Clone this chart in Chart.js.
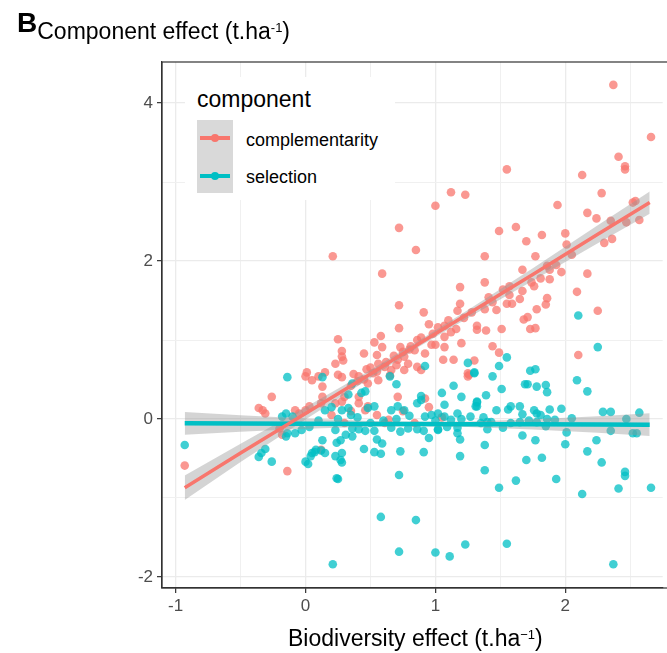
<!DOCTYPE html>
<html><head><meta charset="utf-8">
<script src="https://cdn.jsdelivr.net/npm/chart.js@4.4.1/dist/chart.umd.min.js"></script>
<style>
html,body{margin:0;padding:0;background:#fff;}
#wrap{position:relative;width:667px;height:653px;overflow:hidden;font-family:"Liberation Sans",Arial,sans-serif;}
canvas{position:absolute;left:0;top:0;}
.txt{position:absolute;white-space:nowrap;color:#000;}
.inl{line-height:0;position:relative;}
#legend{position:absolute;left:185px;top:77px;width:210px;height:123px;background:#fff;}
.keybox{position:absolute;left:12px;top:43px;width:36px;height:73px;background:#D9D9D9;}
.kline{position:absolute;left:15px;width:30px;height:3.5px;}
.kdot{position:absolute;left:26px;width:8px;height:8px;border-radius:50%;}
</style></head><body>
<div id="wrap">
<canvas id="c" width="667" height="653"></canvas>
<div class="txt" style="left:17px;top:9.3px;font-size:28px;line-height:28px;"><b>B</b><span class="inl" style="font-size:23px;top:7px;">Component effect (t.ha</span><span class="inl" style="font-size:13px;top:0px;">-1</span><span class="inl" style="font-size:23px;top:7px;">)</span></div>
<div id="legend">
  <div class="txt" style="left:12px;top:10.5px;font-size:23px;line-height:23px;">component</div>
  <div class="keybox"></div>
  <div class="kline" style="top:59.3px;background:#F8766D;"></div>
  <div class="kdot" style="top:57px;background:#F8766D;"></div>
  <div class="kline" style="top:97.3px;background:#00BFC4;"></div>
  <div class="kdot" style="top:95px;background:#00BFC4;"></div>
  <div class="txt" style="left:61px;top:53.8px;font-size:18px;line-height:18px;">complementarity</div>
  <div class="txt" style="left:61px;top:90.8px;font-size:18px;line-height:18px;">selection</div>
</div>
<div class="txt" style="left:288px;top:626.5px;font-size:23px;line-height:23px;">Biodiversity effect (t.ha<span class="inl" style="font-size:13px;top:-7px;">&minus;1</span>)</div>
</div>
<script>
// ---- data ----
const compPoints = [
[2.37,4.23],[2.66,3.57],[2.41,3.32],[2.46,3.20],[2.46,3.16],[1.55,3.16],[2.13,3.09],[1.12,2.87],[1.23,2.84],[1.00,2.70],[2.28,2.86],[1.94,2.71],[2.54,2.76],[2.52,2.74],[2.17,2.61],[2.24,2.54],[2.35,2.51],[2.47,2.49],[2.57,2.52],[0.72,2.42],[1.49,2.38],[1.62,2.43],[0.85,2.14],[1.70,2.25],[1.82,2.33],[2.00,2.35],[2.01,2.21],[2.30,2.23],[2.36,2.28],[1.38,2.06],[1.77,2.06],[2.05,2.08],
[0.21,2.06],[0.59,1.84],[1.19,1.67],[1.19,1.46],[1.17,1.37],[0.72,1.44],[0.91,1.35],[0.72,1.15],[0.95,1.20],[1.02,1.16],[1.07,1.18],[1.16,1.14],[0.25,1.01],[0.58,1.05],[0.53,0.97],[0.59,0.91],[0.28,0.86],[0.45,0.83],[0.28,0.79],[0.55,0.81],[0.73,0.91],[0.81,0.92],[0.86,1.00],[0.89,1.03],[0.97,0.94],[1.00,0.94],[1.07,1.04],[1.07,0.91],[1.20,0.96],[1.06,0.75],[1.14,0.75],[1.25,0.58],[1.25,0.54],[0.23,0.70],[0.29,0.74],[0.01,0.59],[0.00,0.54],[0.05,0.49],[0.15,0.59],[0.13,0.41],[0.25,0.56],[0.28,0.53],[0.37,0.57],[0.41,0.54],[0.47,0.63],[0.52,0.58],[0.56,0.70],[0.61,0.66],[0.66,0.62],[0.71,0.75],[0.76,0.79],[0.79,0.70],[0.76,0.62],[0.86,0.66],[0.89,0.62],[0.92,0.83],[0.84,0.87],[-0.26,0.28],[0.13,0.28],[0.71,0.28],[0.48,0.45],[0.56,0.49],[0.10,0.54],
[1.10,1.25],[1.22,1.28],[1.28,1.35],[0.98,1.08],[1.12,1.10],[0.35,0.42],[0.45,0.50],[0.55,0.60],[0.62,0.72],[0.68,0.80],[0.75,0.85],[0.80,0.88],[0.50,0.65],[0.40,0.48],[0.65,0.55],[0.70,0.68],
[1.67,1.89],[1.86,1.94],[1.88,1.89],[1.93,1.95],[1.97,1.86],[2.17,1.84],[1.38,1.73],[1.52,1.64],[1.57,1.68],[1.74,1.73],[1.76,1.68],[1.81,1.78],[1.88,1.77],[1.67,1.62],[1.57,1.57],[1.65,1.52],[1.41,1.54],[1.44,1.48],[1.86,1.53],[1.85,1.45],[1.55,1.46],[1.59,1.46],[2.09,1.61],[1.38,1.39],[1.47,1.38],[1.78,1.39],[2.25,1.37],[1.68,1.26],[1.71,1.29],[1.32,1.18],[1.32,1.13],[1.39,1.12],[1.51,1.14],[1.73,1.14],[1.77,1.15],[1.44,0.92],[1.49,0.84],[2.10,0.81],[1.30,0.74],[1.26,0.56],
[-0.36,0.14],[-0.31,0.07],[-0.14,-0.66],[0.12,-0.39],[0.12,0.20],[0.23,0.20],[0.28,0.22],[0.30,0.28],[0.41,0.28],[0.41,0.20],[0.48,0.16],[0.92,0.26],[-0.08,0.11],[-0.05,0.07],[0.00,0.11],[0.03,0.16],[-0.20,-0.12],[-0.18,-0.20],[0.64,-0.01],[0.61,-0.05],[0.84,-0.05],[0.46,0.11],
[0.20,0.05],[0.35,0.10],[0.55,0.05],[0.75,0.10],[0.95,0.15],[1.05,0.02],[0.30,-0.05],
[-0.93,-0.59],[-0.33,0.11]
];
const selPoints = [
[-0.14,0.53],[0.13,0.53],[0.92,0.67],[1.25,0.71],[1.30,0.58],[0.70,0.44],[0.65,0.54],[1.05,0.33],[1.14,0.42],[1.20,0.28],[0.89,0.29],[0.46,0.35],[0.36,0.45],
[2.10,1.31],[2.25,0.91],[1.55,0.78],[1.49,0.67],[1.30,0.59],[1.44,0.54],[1.73,0.61],[1.77,0.63],[1.69,0.44],[1.71,0.44],[1.78,0.41],[1.85,0.43],[1.86,0.34],[1.51,0.38],[2.09,0.49],[2.17,0.35],[1.39,0.30],
[-0.26,-0.54],[-0.34,-0.43],[-0.31,-0.38],[0.00,-0.54],[0.02,-0.57],[0.04,-0.47],[0.07,-0.42],[0.13,-0.27],[0.12,-0.40],[0.15,-0.43],[0.23,-0.47],[0.28,-0.43],[0.28,-0.55],[0.27,-0.52],[0.25,-0.76],[0.24,-0.30],[0.27,-0.27],[0.31,-0.20],[0.36,-0.22],[0.45,-0.38],[0.46,-0.15],[0.53,-0.42],[0.58,-0.44],[0.53,-0.15],[0.55,-0.26],[0.59,-0.31],[0.72,-0.71],[0.73,-0.41],[0.73,-0.16],[0.91,-0.42],[0.95,-0.24],[1.02,-0.14],[1.17,-0.18],[1.19,-0.26],[1.19,-0.47],[0.58,-1.24],[0.85,-1.28],[0.72,-1.68],[1.00,-1.69],[1.11,-1.74],[1.23,-1.59],[0.21,-1.84],
[0.33,0.31],[1.07,0.18],[1.31,0.16],[1.32,0.22],[0.86,0.20],[0.89,0.24],[0.76,0.11],[0.71,0.16],[0.66,0.11],[0.53,0.16],[0.48,0.14],[0.43,0.33],[0.28,0.11],[0.33,0.14],[0.15,0.11],[0.20,0.15],[-0.18,0.03],[-0.15,0.07],[-0.10,0.03],[1.02,0.07],[0.92,0.03],[0.97,0.05],[1.17,0.07],[1.27,0.03],[1.07,0.03],[1.12,-0.01],
[-0.03,-0.14],[0.03,-0.10],[-0.08,-0.18],[0.23,-0.14],[0.36,-0.12],[0.41,-0.13],[0.66,-0.11],[0.79,-0.12],[0.86,-0.13],[0.91,-0.15],[1.02,-0.13],[1.09,-0.10],[1.17,-0.11],
[0.10,-0.02],[0.25,0.00],[0.40,0.02],[0.60,-0.02],[0.70,0.00],[0.80,0.04],[1.00,-0.02],[1.20,0.00],[0.50,-0.05],[0.35,0.05],
[1.32,0.21],[1.32,0.16],[1.47,0.11],[1.56,0.12],[1.58,0.16],[1.65,0.16],[1.67,0.06],[1.76,0.11],[1.78,0.07],[1.81,0.05],[1.88,0.12],[1.97,0.13],[2.05,0.01],[2.29,0.09],[2.35,0.09],[2.57,0.08],[2.47,0.00],[1.37,0.02],[1.40,-0.04],[1.35,-0.05],[1.43,-0.04],[1.52,-0.11],[1.58,-0.05],[1.40,-0.13],[1.65,-0.04],[1.72,-0.02],[1.78,-0.04],[1.86,0.00],[1.92,-0.01],[1.85,-0.09],[1.67,-0.21],[1.77,-0.27],[2.01,-0.17],[2.00,-0.32],[2.35,-0.15],[2.52,-0.18],[2.55,-0.18],[2.24,-0.27],[2.17,-0.41],[1.38,-0.33],[1.82,-0.49],[1.70,-0.52],[2.28,-0.55],[1.38,-0.65],[1.62,-0.78],[1.49,-0.87],[1.93,-0.76],[2.13,-0.95],[2.46,-0.67],[2.46,-0.72],[2.41,-0.88],[2.66,-0.87],[1.55,-1.58],[2.37,-1.84],
[-0.93,-0.33],[-0.36,-0.48],[-0.15,-0.22],[-0.14,-0.18],[0.05,-0.43],[0.08,-0.39],[0.24,-0.75]
];
const fitX    = [-0.93, -0.5, 0, 0.5, 0.87, 1.25, 1.75, 2.25, 2.65];
const compFit = [-0.87, -0.43, 0.07, 0.57, 0.95, 1.33, 1.83, 2.34, 2.74];
const compLo  = [-1.025, -0.545, -0.008, 0.52, 0.91, 1.28, 1.75, 2.226, 2.60];
const compHi  = [-0.715, -0.315, 0.148, 0.62, 0.99, 1.38, 1.91, 2.454, 2.88];
const selFit  = [-0.055, -0.057, -0.06, -0.062, -0.064, -0.066, -0.068, -0.07, -0.072];
const selLo   = [-0.199, -0.162, -0.125, -0.097, -0.094, -0.101, -0.133, -0.175, -0.216];
const selHi   = [0.089, 0.048, 0.005, -0.027, -0.034, -0.031, -0.003, 0.035, 0.072];
const xGrid = [-1, -0.5, 0, 0.5, 1, 1.5, 2, 2.5];
const xTickVals = [-1, 0, 1, 2];
const xTickLabels = ['-1', '0', '1', '2'];
const yGrid = [-2, -1, 0, 1, 2, 3, 4];
const yTickVals = [-2, 0, 2, 4];
const yTickLabels = ['-2', '0', '2', '4'];
const xRange = [-1.105, 2.75];
const yRange = [-2.14, 4.52];

// ---- styling ----
const RED = '#F8766D', TEAL = '#00BFC4';
const FONT = "'Liberation Sans', Arial, sans-serif";
const pts = arr => arr.map(p => ({x: p[0], y: p[1]}));
const curve = ys => fitX.map((x, i) => ({x, y: ys[i]}));

const lineDs = (ys, color, w) => ({type:'line', data: curve(ys), borderColor: color, borderWidth: w, pointRadius: 0, fill: false, order: 0});
const bandLo = ys => ({type:'line', data: curve(ys), borderWidth: 0, borderColor: 'rgba(0,0,0,0)', pointRadius: 0, fill: false, order: 1});
const bandHi = ys => ({type:'line', data: curve(ys), borderWidth: 0, borderColor: 'rgba(0,0,0,0)', pointRadius: 0, fill: '-1', backgroundColor: 'rgba(153,153,153,0.42)', order: 1});

const isIn = (v, arr) => arr.some(a => Math.abs(a - v) < 1e-9);

const panelBorder = {
  id: 'panelBorder',
  afterDatasetsDraw(chart) {
    const {ctx, chartArea: a} = chart;
    ctx.save();
    ctx.strokeStyle = '#333333';
    ctx.lineWidth = 1.2;
    ctx.strokeRect(a.left, a.top, a.right - a.left + 20, a.bottom - a.top);
    ctx.restore();
  }
};

const mkScale = (range, grid, tickVals, tickLabels, isX) => ({
  type: 'linear', min: range[0], max: range[1], bounds: 'data',
  afterBuildTicks: s => { s.ticks = grid.map(v => ({value: v})); },
  afterFit: s => { if (isX) s.height = 65; else s.width = 162; },
  ticks: {
    autoSkip: false, maxRotation: 0, padding: isX ? 3 : 4,
    color: '#4D4D4D', font: {family: FONT, size: 17},
    callback: v => { const i = tickVals.findIndex(t => Math.abs(t - v) < 1e-9); return i >= 0 ? tickLabels[i] : ''; }
  },
  grid: {
    color: c => isIn(c.tick.value, tickVals) ? '#EBEBEB' : '#F0F0F0',
    lineWidth: c => isIn(c.tick.value, tickVals) ? 1.3 : 1,
    drawTicks: true, tickLength: 5, tickWidth: 1.2,
    tickColor: c => isIn(c.tick.value, tickVals) ? '#333333' : 'rgba(0,0,0,0)'
  },
  border: {display: true, color: '#333333', width: 1.2}
});

new Chart(document.getElementById('c'), {
  type: 'scatter',
  data: {
    datasets: [
      lineDs(compFit, RED, 3.5),
      lineDs(selFit, TEAL, 4.5),
      bandLo(compLo), bandHi(compHi),
      bandLo(selLo), bandHi(selHi),
      {label: 'selection', data: pts(selPoints), backgroundColor: 'rgba(0,191,196,0.75)', borderWidth: 0, pointRadius: 4.3, order: 2},
      {label: 'complementarity', data: pts(compPoints), backgroundColor: 'rgba(248,118,109,0.75)', borderWidth: 0, pointRadius: 4.3, order: 3}
    ]
  },
  options: {
    responsive: false, animation: false, devicePixelRatio: 1,
    layout: {padding: {top: 62, left: 0, right: 0, bottom: 0}},
    plugins: {legend: {display: false}, tooltip: {enabled: false}, title: {display: false}},
    scales: {
      x: mkScale(xRange, xGrid, xTickVals, xTickLabels, true),
      y: mkScale(yRange, yGrid, yTickVals, yTickLabels, false)
    }
  },
  plugins: [panelBorder]
});
</script>
</body></html>
